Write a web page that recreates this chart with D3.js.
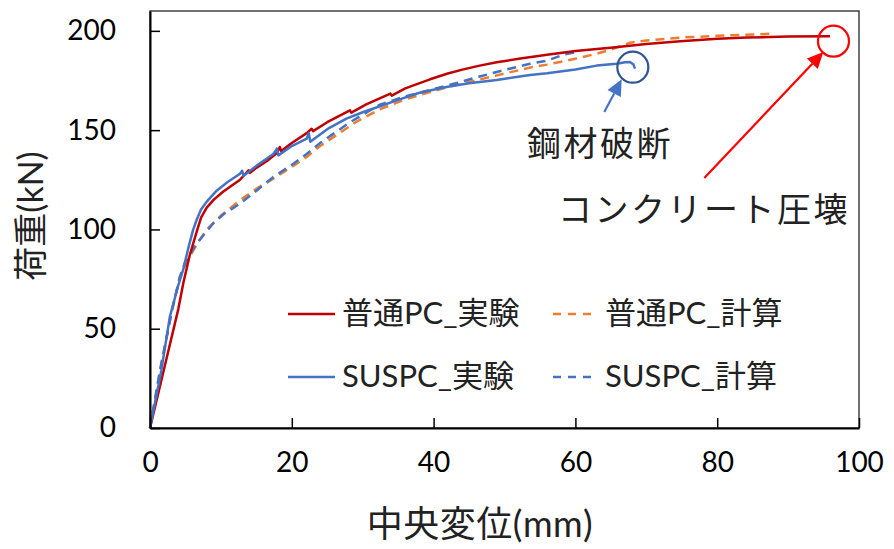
<!DOCTYPE html>
<html><head><meta charset="utf-8">
<script src="https://cdn.jsdelivr.net/npm/d3@7"></script>
<style>
html,body{margin:0;padding:0;background:#fff;}
svg{display:block;font-family:Lato,"Noto Sans CJK JP",sans-serif;}
</style></head>
<body><svg id="c" width="894" height="549"></svg>
<script>
// ---- data ----
const xTicks = [0, 20, 40, 60, 80, 100];
const yTicks = [0, 50, 100, 150, 200];
const seriesNames = ["普通PC_実験", "普通PC_計算", "SUSPC_実験", "SUSPC_計算"];
const pcExp = [[0,0],[2.0,30],[4.0,60],[4.7,73],[5.6,87],[6.6,99],[7.2,106],[8.0,111],[9.0,115],[10.3,119],[11.5,122],[12.7,125],[13.9,129.8],[14.1,128.5],[15.0,131],[16.5,134.5],[17.9,138.5],[18.3,141.5],[18.5,139.5],[20,143.5],[22.1,148.5],[22.8,150.7],[23.0,149.5],[25,154],[28.2,160],[28.4,158.8],[30.5,163],[33.9,168.4],[34.1,167.4],[36,171],[39.5,175.6],[42,178.5],[44.2,180.6],[46.5,182.5],[48.9,184.2],[52,185.9],[56,188],[60,189.8],[65.3,191.6],[70,193.4],[74.8,194.8],[80,196],[84.2,196.6],[90,197.1],[95.9,197.3]];
const pcCalc = [[0,0],[1.5,30],[3,58],[4.2,76],[5,82],[6.5,92],[8,100],[10,107],[12.7,114.7],[15,120.5],[17.4,125.6],[20,131.5],[22.1,136.5],[24,142],[26.3,147.5],[29,154],[32.4,160.5],[36,165.5],[39.5,169.2],[43,172.6],[46.5,175.5],[50,178.5],[53.6,181.5],[56,183],[60,186],[63,188.5],[65.3,190.9],[67.7,194],[70,195.2],[74.8,196.6],[80,197.5],[87.4,198.5]];
const susExp = [[0,0],[1.6,29],[2.8,56],[4.0,72],[4.7,80],[5.5,92],[6.1,100],[6.6,105],[7.2,110],[8.0,114],[9.4,119.5],[11,124],[12.7,128],[13.0,129.5],[13.2,127],[15,132],[17.4,138],[17.9,140.7],[18.1,137.3],[20,142],[22.1,145.7],[22.4,148.5],[22.6,144.2],[25,150.5],[27.7,155.8],[30,159],[34.8,165],[38,168.8],[41.8,171.7],[45,173.6],[48.9,175.2],[53.6,177.8],[56,178.6],[60,180.5],[63,182.5],[65.8,183.4],[67,184.2],[67.7,184.3],[68.2,183],[68.4,181]];
const susCalc = [[0,0],[1.4,29],[3.1,59],[4.2,76],[5,84],[6.6,93],[8.9,103],[10.5,108],[12.7,113],[15,119.5],[17.4,126.4],[20,132.5],[22.1,138],[24,143.5],[25.8,148],[28,153.5],[30.1,158],[32.4,162.8],[36,167],[39.5,170.2],[43,173.5],[46.5,177],[50,180.3],[53.6,183.4],[56,185],[58.3,188],[60.2,189.3]];
// annotations (data coordinates)
const failCircles = [{x:68.1, y:181.7, c:"#2F5597"}, {x:96.4, y:194.8, c:"#FF0000"}];
const arrows = [{x1:64.07, y1:159.1, x2:66.53, y2:175.6, c:"#4472C4"}, {x1:78.18, y1:125.9, x2:94.97, y2:189.3, c:"#FF0000"}];
const notes = [{x:63.47, y:137.1, t:"鋼材破断"}, {x:78.14, y:103.6, t:"コンクリート圧壊"}];

const svg = d3.select("#c");
const x = d3.scaleLinear().domain([0,100]).range([150,859]);
const y = d3.scaleLinear().domain([0,210]).range([428,11]);

// frame
svg.append("rect").attr("x",150).attr("y",11).attr("width",709).attr("height",417)
  .attr("fill","none").attr("stroke","#404040").attr("stroke-width",1.5);

const series = [
  {d:pcExp, c:"#C00000", dash:null},
  {d:pcCalc, c:"#ED7D31", dash:"9,6"},
  {d:susExp, c:"#4472C4", dash:null},
  {d:susCalc, c:"#4472C4", dash:"9,6"}
];
const line = d3.line().x(d=>x(d[0])).y(d=>y(d[1]));
[series[1], series[3], series[0], series[2]].forEach(s=>{
  svg.append("path").attr("d", line(s.d)).attr("fill","none")
    .attr("stroke", s.c).attr("stroke-width",2.5).attr("stroke-linejoin","round")
    .attr("stroke-dasharray", s.dash);
});

// axes
const xa = svg.append("g").attr("transform","translate(0,428)")
  .call(d3.axisBottom(x).tickValues(xTicks).tickSizeInner(-10).tickSizeOuter(0).tickPadding(24));
const ya = svg.append("g").attr("transform","translate(150,0)")
  .call(d3.axisLeft(y).tickValues(yTicks).tickSizeInner(-10).tickSizeOuter(0).tickPadding(34));
[xa, ya].forEach(a=>{
  a.select(".domain").attr("stroke","#000").attr("stroke-width",2);
  a.selectAll(".tick line").attr("stroke","#000").attr("stroke-width",1.5);
  a.selectAll(".tick text").attr("font-family","Lato").attr("font-size",28).attr("fill","#000");
});
xa.selectAll(".tick text").attr("dy","0.71em");

// axis titles
svg.append("text").attr("x",480).attr("y",537).attr("text-anchor","middle")
  .attr("font-size",36).attr("letter-spacing",0.5).attr("fill","#222").text("中央変位(mm)");
svg.append("text").attr("transform","translate(43,216) rotate(-90)").attr("text-anchor","middle")
  .attr("font-size",34).attr("fill","#222").text("荷重(kN)");

// annotations
failCircles.forEach(c=>{
  svg.append("circle").attr("cx",x(c.x)).attr("cy",y(c.y)).attr("r",15.5)
    .attr("fill","none").attr("stroke",c.c).attr("stroke-width",2.2);
});
arrows.forEach(a=>{
  const x1=x(a.x1), y1=y(a.y1), x2=x(a.x2), y2=y(a.y2);
  const ang=Math.atan2(y2-y1,x2-x1), L=16, W=7.5;
  const bx=x2-L*Math.cos(ang), by=y2-L*Math.sin(ang);
  svg.append("line").attr("x1",x1).attr("y1",y1).attr("x2",bx).attr("y2",by)
    .attr("stroke",a.c).attr("stroke-width",2.2);
  const px=-Math.sin(ang), py=Math.cos(ang);
  svg.append("path").attr("d",`M${x2},${y2}L${bx+W*px},${by+W*py}L${bx-W*px},${by-W*py}Z`).attr("fill",a.c);
});
notes.forEach(n=>{
  svg.append("text").attr("x",x(n.x)).attr("y",y(n.y)).attr("text-anchor","middle")
    .attr("font-size",34).attr("letter-spacing",2.5).attr("fill","#222").text(n.t);
});

// legend
const legPos = [[288,314],[553,314],[288,377],[553,377]];
series.forEach((s,i)=>{
  const [lx,ly]=legPos[i];
  svg.append("line").attr("x1",lx).attr("x2",lx+(s.dash?45:47)).attr("y1",ly).attr("y2",ly)
    .attr("stroke",s.c).attr("stroke-width",2.5).attr("stroke-dasharray",s.dash?"8,7":null);
  svg.append("text").attr("x",lx+(s.dash?52:54)).attr("y",ly+10).attr("font-size",31).attr("fill","#222").text(seriesNames[i]);
});
</script></body></html>
